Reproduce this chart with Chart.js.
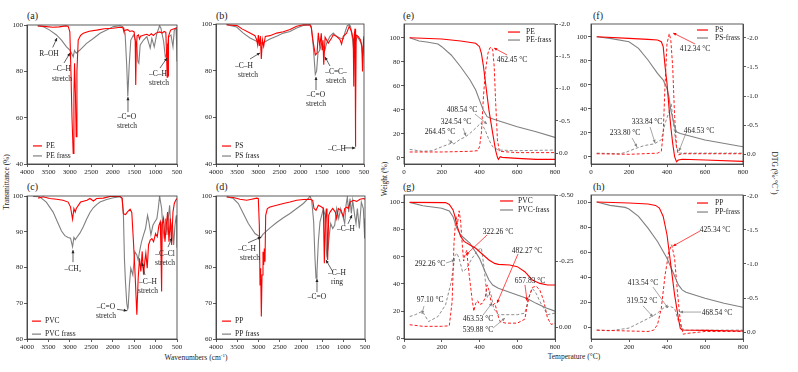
<!DOCTYPE html>
<html>
<head>
<meta charset="utf-8">
<script src="https://cdn.jsdelivr.net/npm/chart.js@4.4.0/dist/chart.umd.min.js"></script>
<style>
  body { margin: 0; width: 798px; height: 372px; overflow: hidden; position: relative; background: #fff;
         font-family: "Liberation Serif", "Times New Roman", serif; color: #222; }
  canvas { position: absolute; left: 0; top: 0; }
  .t { position: absolute; white-space: nowrap; font-size: 7.5px; line-height: 1; }
  .p { position: absolute; white-space: nowrap; font-size: 10px; line-height: 1; }
  sup { font-size: 5px; }
</style>
</head>
<body>
<div class="p" style="left:27px;top:11px">(a)</div>
<div class="p" style="left:216px;top:11px">(b)</div>
<div class="p" style="left:27px;top:182px">(c)</div>
<div class="p" style="left:216px;top:182px">(d)</div>
<div class="p" style="left:403px;top:11px">(e)</div>
<div class="p" style="left:593px;top:11px">(f)</div>
<div class="p" style="left:403px;top:182px">(g)</div>
<div class="p" style="left:593px;top:182px">(h)</div>
<div class="t" style="left:7px;top:182px;transform:translate(-50%,-50%) rotate(-90deg)">Transmittance (%)</div>
<div class="t" style="left:196px;top:357px;transform:translate(-50%,-50%)">Wavenumbers (cm<sup>-1</sup>)</div>
<div class="t" style="left:385px;top:179px;transform:translate(-50%,-50%) rotate(-90deg)">Weight (%)</div>
<div class="t" style="left:574px;top:357px;transform:translate(-50%,-50%)">Temperature (°C)</div>
<div class="t" style="left:775px;top:173px;transform:translate(-50%,-50%) rotate(90deg)">DTG (%·°C<sup>-1</sup>)</div>

<script>
const W = 798, H = 372;
const RED = '#ff0000', GRAY = '#808080', INK = '#222';
const FONT = '"Liberation Serif", "Times New Roman", serif';

// tick values
const wnTicks = [4000, 3500, 3000, 2500, 2000, 1500, 1000, 500];
const transTicksTop = [40, 60, 80, 100];
const transTicksBottom = [60, 70, 80, 90, 100];
const tempTicks = [0, 200, 400, 600, 800];
const weightTicks = [0, 20, 40, 60, 80, 100];
const dtgTicks = [-2.0, -1.5, -1.0, -0.5, 0.0];
const dtgTicksPVC = [-0.50, -0.25, 0.00];

// FTIR spectra [wavenumber, transmittance %]
const pe = [[3750,99.6],[3600,99.4],[3400,99.0],[3250,99.2],[3100,99.6],[3040,99.5],[3000,97],[2975,80],[2950,60],[2922,44.6],[2905,70],[2890,83.5],[2870,70],[2852,51.8],[2835,80],[2805,93.5],[2750,95.5],[2687,96.4],[2550,97.3],[2375,97.8],[2200,98.4],[2000,98.6],[1820,99.0],[1760,98.8],[1740,97.3],[1700,97.8],[1650,98.0],[1600,97.2],[1550,97.5],[1500,97.0],[1475,93],[1463,74.1],[1450,90],[1430,95.3],[1400,95.7],[1375,94.0],[1350,95.2],[1300,95.5],[1250,95.8],[1200,96.0],[1150,95.4],[1100,96.2],[1050,95.5],[1000,96.4],[950,96.8],[900,97.0],[850,96.5],[800,97.2],[760,96.8],[740,85],[730,77.5],[722,92],[716,85],[710,78],[700,95],[650,97.8],[600,98.2],[550,98.5],[500,98.8]];
const peFrass = [[3750,99.7],[3625,99.3],[3470,97.8],[3312,95.7],[3195,93.5],[3078,90.6],[3000,89.2],[2960,87.8],[2922,86.3],[2890,89.0],[2852,87.8],[2766,89.2],[2610,92.1],[2453,94.2],[2297,96.4],[2140,97.8],[1984,99.3],[1828,99.7],[1766,99.3],[1711,96.4],[1672,82.0],[1648,69.1],[1617,82.0],[1578,93.5],[1516,95.7],[1437,92.1],[1414,84.2],[1390,83.5],[1359,91.4],[1281,93.5],[1203,95.0],[1125,90.0],[1086,94.2],[1031,90.6],[969,96.4],[906,99.7],[875,98.6],[813,93.0],[773,86.3],[734,87.8],[695,94.8],[641,95.7],[594,90.6],[563,97.8],[523,98.6],[505,90],[500,84.2]];
const ps = [[3750,99.7],[3500,99.3],[3385,97.9],[3196,96.1],[3078,95.0],[3040,93.3],[3015,91.1],[3000,95.3],[2975,90.6],[2952,94.8],[2928,85.0],[2904,93.3],[2873,90.4],[2834,94.7],[2723,95.0],[2566,96.1],[2408,96.7],[2250,97.6],[2093,99.0],[1935,99.7],[1778,99.6],[1747,98.4],[1700,92],[1650,86.8],[1610,87.5],[1580,96.2],[1545,90.5],[1510,96.0],[1490,89.0],[1470,93],[1452,82.5],[1420,94.3],[1345,91.8],[1266,94.0],[1227,95.4],[1148,94.7],[1069,93.3],[1030,91.4],[990,94.7],[911,96.1],[850,99.0],[795,96.8],[754,93.3],[742,73.2],[730,95.5],[712,98.0],[705,80],[700,47.4],[692,60],[685,95.3],[639,94.7],[584,93.3],[551,90.4],[535,79.7],[515,92],[500,94.8]];
const psFrass = [[3750,99.7],[3512,98.7],[3355,96.1],[3196,94.0],[3040,92.6],[2920,91.8],[2842,92.4],[2723,93.6],[2566,94.8],[2408,96.1],[2250,96.8],[2093,98.3],[1935,99.4],[1778,99.7],[1747,99.0],[1699,90.4],[1652,78.4],[1621,79.8],[1589,87.5],[1542,88.9],[1502,91.8],[1463,90.4],[1423,89.0],[1384,91.8],[1305,94.7],[1227,96.1],[1148,94.7],[1069,94.0],[990,93.6],[943,96.8],[896,99.3],[850,99.7],[818,99.0],[770,93.3],[738,87.6],[706,91.8],[661,94.7],[614,93.3],[567,91.8],[528,86.1],[500,94.0]];
const pvc = [[3740,99.4],[3625,99.8],[3470,99.3],[3310,99.1],[3160,98.8],[3040,98.3],[2984,96.9],[2937,93.5],[2905,96.5],[2875,95.5],[2850,96.5],[2750,98.3],[2600,98.8],[2531,99.3],[2450,98.6],[2375,99.3],[2220,99.4],[2060,99.9],[1830,99.9],[1781,99.4],[1750,95.0],[1700,94.8],[1660,95.5],[1594,96.3],[1555,95.4],[1516,87.2],[1477,77.9],[1437,66.8],[1406,77.0],[1375,82.6],[1344,78.9],[1312,84.5],[1281,78.0],[1250,81.8],[1227,84.0],[1195,79.8],[1164,86.3],[1125,87.7],[1086,88.1],[1047,87.2],[1000,89.5],[961,88.6],[922,91.8],[890,92.8],[875,85],[859,73.3],[845,92.0],[813,93.7],[781,87.2],[750,91.8],[719,95.5],[687,87.2],[656,93.7],[625,86.3],[594,95.5],[563,97.9],[531,98.8],[500,99.3]];
const pvcFrass = [[3860,99.9],[3703,99.8],[3550,98.3],[3390,95.5],[3273,92.3],[3195,90.2],[3117,88.9],[3040,88.4],[2984,88.2],[2937,85.8],[2905,88.4],[2875,87.8],[2840,88.4],[2766,89.6],[2687,91.4],[2610,93.5],[2531,95.4],[2453,96.7],[2375,97.6],[2297,98.3],[2140,99.0],[1984,99.5],[1828,99.8],[1781,99.3],[1750,94.6],[1727,82.6],[1703,76.1],[1672,70.0],[1650,68.4],[1640,68.8],[1609,75.3],[1578,79.8],[1531,77.9],[1484,84.4],[1437,83.5],[1406,82.1],[1375,84.4],[1328,87.2],[1281,89.1],[1234,90.9],[1187,94.6],[1156,92.8],[1109,89.1],[1062,91.8],[1016,92.8],[969,93.7],[937,96.5],[906,100],[859,96.5],[828,90.9],[797,88.1],[766,93.7],[734,89.1],[703,93.7],[672,97.4],[640,90.0],[609,92.8],[578,86.3],[547,91.8],[516,94.6],[505,92],[500,85.5]];
const pp = [[3749,99.7],[3593,99.6],[3436,99.1],[3280,98.8],[3162,99.1],[3045,99.4],[3006,99.3],[2982,91.8],[2966,75.1],[2951,79.8],[2935,66.3],[2919,77.9],[2896,84.4],[2880,80.7],[2865,85.3],[2849,81.6],[2833,94.6],[2794,96.5],[2731,96.9],[2575,97.4],[2418,97.9],[2262,98.3],[2105,98.8],[1948,99.0],[1792,99.1],[1729,98.8],[1698,96.5],[1651,96.0],[1596,97.4],[1518,96.9],[1478,96.5],[1455,81.2],[1432,93.7],[1408,96.5],[1393,91.8],[1377,82.1],[1353,94.6],[1322,95.5],[1259,96.5],[1197,95.5],[1165,93.7],[1126,96.5],[1071,96.0],[1008,94.2],[977,96.5],[930,96.9],[891,96.5],[852,98.3],[774,98.8],[695,98.5],[617,99.1],[539,99.3],[500,99.1]];
const ppFrass = [[3749,99.8],[3593,99.3],[3475,97.9],[3358,95.1],[3240,92.3],[3162,90.9],[3084,89.5],[3006,88.9],[2951,88.3],[2904,89.2],[2849,89.8],[2731,91.1],[2575,92.6],[2418,93.9],[2262,95.1],[2105,96.5],[1948,97.9],[1831,99.3],[1792,100],[1753,98.8],[1706,92.8],[1675,82.6],[1651,77.0],[1628,78.8],[1596,87.2],[1557,92.8],[1518,94.6],[1478,96.5],[1440,94.6],[1400,83.5],[1369,85.3],[1338,89.1],[1306,92.3],[1259,90.9],[1212,91.8],[1165,96.5],[1118,93.7],[1071,96.5],[1024,94.6],[977,92.3],[946,97.4],[915,99.7],[883,95.5],[852,99.3],[821,95.1],[789,98.8],[743,94.6],[711,92.3],[680,96.5],[633,90.9],[586,98.3],[539,96.5],[508,88.1],[500,93.7]];

// TGA weight [temperature, weight %] and DTG [temperature, %/°C]
const peTg = [[30,100],[200,98.9],[300,97.2],[380,95.3],[400,92.5],[410,86.9],[420,77.2],[430,64.7],[450,39.7],[470,20.3],[485,6.4],[495,0.3],[500,-1.4],[510,0.8],[520,0.3],[600,-0.6],[700,-1.4],[800,-1.4]];
const peFrassTg = [[30,100],[80,97.2],[120,96.4],[180,94.7],[200,92.5],[250,85.6],[300,75.8],[350,64.7],[380,56.4],[400,48],[420,39.7],[440,34.2],[460,32.8],[500,30.8],[600,25.8],[700,21.7],[800,16.9]];
const peDtg = [[30,-0.02],[200,-0.02],[350,-0.03],[390,-0.04],[400,-0.10],[410,-0.31],[420,-0.83],[430,-1.24],[445,-1.55],[455,-1.63],[462,-1.64],[470,-1.60],[478,-1.34],[485,-0.83],[495,-0.21],[505,-0.03],[600,-0.01],[800,-0.01]];
const peFrassDtg = [[30,-0.06],[100,-0.03],[150,-0.04],[200,-0.10],[250,-0.155],[264,-0.145],[300,-0.22],[324,-0.25],[350,-0.31],[380,-0.39],[408,-0.47],[430,-0.36],[450,-0.21],[470,-0.10],[500,-0.05],[600,-0.04],[800,-0.05]];
const psTg = [[30,100],[200,98.6],[300,97.8],[350,97.2],[370,95.8],[380,91.7],[390,75],[400,61.1],[410,41.7],[420,25],[430,11.1],[440,0],[450,-4.2],[460,-2.8],[480,-2.2],[600,-2.8],[800,-3.9]];
const psFrassTg = [[30,100],[100,98.6],[200,95.8],[250,90.3],[300,80.6],[350,69.4],[380,63.9],[400,56.9],[410,50],[420,38.9],[440,25],[450,20.8],[470,19.4],[600,13.9],[800,8.3]];
const psDtg = [[30,-0.01],[200,0],[350,-0.02],[370,-0.05],[380,-0.36],[390,-1.21],[400,-1.90],[412,-2.07],[420,-1.96],[430,-1.50],[440,-0.65],[450,-0.13],[460,0.01],[480,-0.01],[800,-0.01]];
const psFrassDtg = [[30,-0.02],[150,-0.01],[180,-0.03],[234,-0.10],[280,-0.15],[334,-0.18],[370,-0.25],[390,-0.53],[410,-0.72],[422,-0.87],[435,-0.50],[450,-0.12],[465,-0.02],[800,-0.02]];
const pvcTg = [[30,100],[220,99.8],[240,98.5],[260,94.4],[270,89.5],[280,83.3],[300,74.8],[320,71.1],[350,68.6],[380,66.2],[420,61.3],[450,57.6],[480,55.1],[500,54.4],[560,53.9],[600,52.7],[640,49],[680,42.9],[720,40.4],[760,39.2],[800,39.2]];
const pvcFrassTg = [[30,100],[100,97.5],[200,95.6],[240,93.6],[260,89.5],[280,80.9],[300,76],[350,69.9],[400,58.8],[430,49],[450,42.9],[470,39.2],[500,36.8],[600,31.9],[650,29.4],[700,25.7],[750,22.5],[800,20]];
const pvcDtg = [[30,-0.009],[100,-0.003],[200,-0.003],[240,-0.005],[255,-0.097],[265,-0.32],[275,-0.42],[283,-0.39],[292,-0.44],[300,-0.40],[310,-0.30],[316,-0.25],[322,-0.27],[332,-0.29],[345,-0.20],[360,-0.11],[370,-0.06],[380,-0.09],[390,-0.10],[400,-0.085],[415,-0.09],[430,-0.11],[440,-0.16],[450,-0.14],[465,-0.08],[482,-0.09],[495,-0.05],[510,-0.02],[540,-0.015],[600,-0.015],[640,-0.03],[655,-0.09],[665,-0.12],[680,-0.15],[700,-0.155],[720,-0.14],[740,-0.10],[760,-0.035],[780,-0.01],[800,-0.015]];
const pvcFrassDtg = [[30,-0.04],[60,-0.047],[97,-0.06],[130,-0.021],[180,-0.04],[220,-0.084],[250,-0.17],[270,-0.27],[280,-0.28],[292,-0.26],[310,-0.21],[330,-0.22],[360,-0.26],[390,-0.29],[410,-0.30],[425,-0.22],[440,-0.11],[455,-0.135],[463,-0.12],[475,-0.07],[500,-0.047],[540,-0.047],[600,-0.047],[640,-0.053],[660,-0.11],[680,-0.147],[700,-0.128],[720,-0.097],[760,-0.047],[800,-0.053]];
const ppTg = [[30,100],[200,99.2],[300,98.4],[340,97.3],[360,95.2],[380,88.5],[400,73.9],[420,49.9],[440,25.9],[460,7.2],[470,-0.8],[480,-2.1],[600,-2.4],[800,-2.9]];
const ppFrassTg = [[30,100],[100,97.3],[180,95.7],[200,94.4],[250,88.5],[300,79.2],[350,68.5],[400,55.2],[430,44.5],[460,33.9],[480,29.9],[500,28],[600,23.2],[700,19.2],[800,16]];
const ppDtg = [[30,-0.03],[300,-0.01],[330,-0.03],[350,-0.11],[370,-0.35],[390,-0.84],[410,-1.18],[425,-1.28],[440,-1.08],[455,-0.59],[470,-0.16],[485,0.03],[500,0.02],[600,-0.01],[800,-0.01]];
const ppFrassDtg = [[30,-0.03],[100,-0.02],[200,-0.06],[250,-0.13],[300,-0.2],[320,-0.23],[350,-0.28],[380,-0.35],[414,-0.38],[440,-0.35],[460,-0.16],[480,-0.05],[500,-0.03],[800,-0.03]];

// box drawn round each plot area
const framePlugin = {
  id: 'frame',
  afterDraw(chart) {
    const a = chart.chartArea, ctx = chart.ctx;
    ctx.save();
    ctx.strokeStyle = '#333';
    ctx.lineWidth = 0.8;
    ctx.strokeRect(a.left, a.top, a.right - a.left, a.bottom - a.top);
    ctx.restore();
  }
};

function drawArrow(ctx, p, q, color, head) {
  ctx.strokeStyle = color;
  ctx.fillStyle = color;
  ctx.lineWidth = 0.7;
  ctx.beginPath(); ctx.moveTo(p[0], p[1]); ctx.lineTo(q[0], q[1]); ctx.stroke();
  if (!head) return;
  const ang = Math.atan2(q[1] - p[1], q[0] - p[0]), L = 3.5, s = 0.45;
  ctx.beginPath();
  ctx.moveTo(q[0], q[1]);
  ctx.lineTo(q[0] - L * Math.cos(ang - s), q[1] - L * Math.sin(ang - s));
  ctx.lineTo(q[0] - L * Math.cos(ang + s), q[1] - L * Math.sin(ang + s));
  ctx.closePath(); ctx.fill();
}

// labels, arrows and the in-plot legend
const notesPlugin = {
  id: 'notes',
  afterDatasetsDraw(chart, args, o) {
    const ctx = chart.ctx, sx = chart.scales.x, sy = chart.scales.y;
    const px = p => [sx.getPixelForValue(p[0]), sy.getPixelForValue(p[1])];
    ctx.save();
    ctx.font = '7.5px ' + FONT;
    ctx.textBaseline = 'middle';
    (o.items || []).forEach(n => {
      if (n.from) drawArrow(ctx, px(n.from), px(n.to), n.color || INK, n.head !== false);
      if (n.text) {
        const [x, y] = px(n.at);
        ctx.fillStyle = INK; ctx.textAlign = 'center';
        ctx.fillText(n.text, x, y);
      }
    });
    const k = o.keys;
    if (k) {
      const [x0, y0] = px(k.at);
      chart.data.datasets.slice(0, 2).forEach((d, i) => {
        const y = y0 + i * k.gap;
        ctx.strokeStyle = d.borderColor; ctx.lineWidth = 1.2; ctx.setLineDash([]);
        ctx.beginPath(); ctx.moveTo(x0, y); ctx.lineTo(x0 + k.len, y); ctx.stroke();
        ctx.fillStyle = INK; ctx.textAlign = 'left';
        ctx.fillText(d.label, x0 + k.len + k.sep, y);
      });
    }
    ctx.restore();
  }
};

function axis(pos, a, size) {
  return {
    type: 'linear', position: pos, min: a.min, max: a.max, reverse: !!a.reverse,
    afterBuildTicks: s => { s.ticks = a.ticks.map(v => ({ value: v })); },
    afterFit: s => { if (pos === 'bottom') s.height = size; else s.width = size; },
    grid: { drawOnChartArea: false, drawTicks: true, tickLength: 3, color: '#333', lineWidth: 0.8 },
    border: { display: true, color: '#333', width: 0.8 },
    ticks: {
      font: { family: FONT, size: 7 }, color: INK, padding: 1, maxRotation: 0, autoSkip: false,
      callback: v => a.fmt ? a.fmt(v) : String(v)
    }
  };
}

function line(label, arr, color, axisId, dashed) {
  return {
    label, data: arr.map(p => ({ x: p[0], y: p[1] })),
    borderColor: color, borderWidth: dashed ? 0.9 : (axisId ? 1 : 1.1),
    borderDash: dashed ? [3, 2] : [], pointRadius: 0, tension: 0, fill: false,
    yAxisID: axisId || 'y'
  };
}

function panel(box, x, y, right, sets, items, keys) {
  const cv = document.createElement('canvas');
  cv.width = W; cv.height = H;
  document.body.appendChild(cv);
  const yW = 22, xH = 14, rW = right ? 22 : 0;
  const scales = { x: axis('bottom', x, xH), y: axis('left', y, yW) };
  if (right) scales.y2 = axis('right', right, rW);
  new Chart(cv, {
    type: 'line',
    data: { datasets: sets },
    options: {
      responsive: false, animation: false, events: [],
      layout: { autoPadding: false,
        padding: { left: box[0] - yW, top: box[1], right: W - box[2] - rW, bottom: H - box[3] - xH } },
      plugins: { legend: { display: false }, tooltip: { enabled: false }, notes: { items, keys } },
      scales
    },
    plugins: [framePlugin, notesPlugin]
  });
}

const wnAxis = { min: 500, max: 4000, reverse: true, ticks: wnTicks };
const tempAxis = { min: 0, max: 800, ticks: tempTicks };
const dtgFmt = v => v.toFixed(1);

// (a) PE
panel([27, 25, 177, 164], wnAxis, { min: 40, max: 100, ticks: transTicksTop }, null,
  [line('PE', pe, RED), line('PE frass', peFrass, GRAY)],
  [
    { text: 'R–OH', at: [3487, 87.5], from: [3400, 90.3], to: [3300, 94.4] },
    { text: '–C–H', at: [3183, 81.0] }, { text: 'stretch', at: [3183, 76.7], from: [3137, 83.6], to: [2997, 87.9] },
    { text: '–C=O', at: [1667, 60.3] }, { text: 'stretch', at: [1667, 56.4], from: [1644, 62.4], to: [1644, 68.9] },
    { text: '–C–H', at: [944, 78.8] }, { text: 'stretch', at: [920, 74.9], from: [897, 81.4], to: [733, 85.8] }
  ],
  { at: [3860, 47.8], len: 9, sep: 4, gap: 10 });

// (b) PS
panel([216, 24, 364, 164], wnAxis, { min: 40, max: 100, ticks: transTicksTop }, null,
  [line('PS', ps, RED), line('PS frass', psFrass, GRAY)],
  [
    { text: '–C–H', at: [3338, 82.0] }, { text: 'stretch', at: [3243, 78.1], from: [3196, 85.0], to: [2959, 87.6] },
    { text: '–C=O', at: [1635, 69.6] }, { text: 'stretch', at: [1635, 65.7], from: [1635, 71.7], to: [1635, 77.3] },
    { text: '–C=C–', at: [1162, 79.4] }, { text: 'stretch', at: [1162, 75.6], from: [1304, 82.0], to: [1422, 85.9] },
    { text: '–C–H', at: [1138, 46.6], from: [973, 46.9], to: [705, 46.9] }
  ],
  { at: [3858, 47.7], len: 9, sep: 4, gap: 10 });

// (c) PVC
panel([27, 196, 177, 339], wnAxis, { min: 60, max: 100, ticks: transTicksBottom }, null,
  [line('PVC', pvc, RED), line('PVC frass', pvcFrass, GRAY)],
  [
    { text: '–CH₂', at: [2927, 79.6], from: [2927, 81.5], to: [2927, 84.9] },
    { text: '–C=O', at: [2157, 69.0] }, { text: 'stretch', at: [2157, 66.4], from: [1900, 68.3], to: [1667, 67.9] },
    { text: '–C–H', at: [1177, 75.9] }, { text: 'stretch', at: [1177, 73.5], from: [1247, 77.9], to: [1317, 81.3] },
    { text: '–C–Cl', at: [780, 83.8] }, { text: 'stretch', at: [780, 81.3], from: [710, 85.7], to: [617, 88.3] }
  ],
  { at: [3883, 65.0], len: 9, sep: 4, gap: 13 });

// (d) PP
panel([216, 196, 365, 339], wnAxis, { min: 60, max: 100, ticks: transTicksBottom }, null,
  [line('PP', pp, RED), line('PP frass', ppFrass, GRAY)],
  [
    { text: '–C–H', at: [3272, 85.2] }, { text: 'stretch', at: [3201, 82.7], from: [3248, 86.9], to: [2943, 88.5] },
    { text: '–C–H', at: [1158, 78.5] }, { text: 'ring', at: [1158, 75.9], from: [1252, 78.7], to: [1416, 82.1] },
    { text: '–C=O', at: [1628, 71.8], from: [1628, 73.1], to: [1628, 76.8] },
    { text: '–C–H', at: [946, 90.8], from: [899, 92.2], to: [805, 94.7] }
  ],
  { at: [3859, 65.0], len: 9, sep: 4, gap: 13 });

// (e) PE TGA
panel([404, 24, 555, 164], tempAxis, { min: -5.25, max: 111.4, ticks: weightTicks },
  { min: -2.0, max: 0.166, reverse: true, ticks: dtgTicks, fmt: dtgFmt },
  [line('PE', peTg, RED), line('PE-frass', peFrassTg, GRAY),
   line('PE DTG', peDtg, RED, 'y2', true), line('PE-frass DTG', peFrassDtg, GRAY, 'y2', true)],
  [
    { text: '462.45 °C', at: [572, 81.4], from: [546, 85.6], to: [477, 91.4], color: RED },
    { text: '408.54 °C', at: [307, 39.7], from: [376, 36.4], to: [440, 28.1], color: GRAY },
    { text: '324.54 °C', at: [276, 29.7], from: [313, 24.7], to: [328, 18.1], color: GRAY },
    { text: '264.45 °C', at: [191, 21.4], from: [234, 14.9], to: [258, 12.2], color: GRAY }
  ],
  { at: [551, 104.7], len: 12, sep: 6, gap: 8 });

// (f) PS TGA
panel([591, 24, 743, 164], tempAxis, { min: -6.1, max: 110.6, ticks: weightTicks },
  { min: -2.235, max: 0.166, reverse: true, ticks: dtgTicks, fmt: dtgFmt },
  [line('PS', psTg, RED), line('PS-frass', psFrassTg, GRAY),
   line('PS DTG', psDtg, RED, 'y2', true), line('PS-frass DTG', psFrassDtg, GRAY, 'y2', true)],
  [
    { text: '412.34 °C', at: [547, 89.8], from: [547, 94.0], to: [432, 103.1], color: RED },
    { text: '333.84 °C', at: [295, 28.9], from: [311, 24.7], to: [337, 11.4], color: GRAY },
    { text: '233.80 °C', at: [179, 19.7], from: [216, 15.6], to: [242, 8.1], color: GRAY },
    { text: '464.53 °C', at: [568, 21.4], from: [500, 19.7], to: [463, 4.7], color: GRAY }
  ],
  { at: [558, 105.6], len: 11, sep: 7, gap: 8 });

// (g) PVC TGA
panel([404, 195, 555, 339], tempAxis, { min: -0.5, max: 105.4, ticks: weightTicks },
  { min: -0.5, max: 0.045, reverse: true, ticks: dtgTicksPVC, fmt: v => v.toFixed(2) },
  [line('PVC', pvcTg, RED), line('PVC-frass', pvcFrassTg, GRAY),
   line('PVC DTG', pvcDtg, RED, 'y2', true), line('PVC-frass DTG', pvcFrassDtg, GRAY, 'y2', true)],
  [
    { text: '322.26 °C', at: [498, 78.2], from: [440, 76.0], to: [328, 61.3], color: RED },
    { text: '482.27 °C', at: [652, 64.2], from: [604, 62.0], to: [493, 26.0], color: RED },
    { text: '292.26 °C', at: [138, 54.7], from: [223, 55.4], to: [270, 57.6], color: GRAY },
    { text: '657.83 °C', at: [668, 42.2], from: [641, 39.2], to: [652, 27.5], color: RED },
    { text: '97.10 °C', at: [138, 28.2], from: [106, 23.8], to: [95, 17.9], color: GRAY },
    { text: '463.53 °C', at: [392, 14.2], from: [419, 17.1], to: [466, 25.9], color: GRAY },
    { text: '539.88 °C', at: [392, 6.1], from: [472, 7.6], to: [535, 14.9], color: GRAY }
  ],
  { at: [509, 101.0], len: 13, sep: 5, gap: 9 });

// (h) PP TGA
panel([591, 195, 743, 339], tempAxis, { min: -9.3, max: 105.6, ticks: weightTicks },
  { min: -2.01, max: 0.1, reverse: true, ticks: dtgTicks, fmt: dtgFmt },
  [line('PP', ppTg, RED), line('PP-frass', ppFrassTg, GRAY),
   line('PP DTG', ppDtg, RED, 'y2', true), line('PP-frass DTG', ppFrassDtg, GRAY, 'y2', true)],
  [
    { text: '425.34 °C', at: [653, 77.7], from: [574, 76.9], to: [432, 64.9], color: RED },
    { text: '413.54 °C', at: [274, 35.4], from: [326, 32.2], to: [405, 15.4], color: GRAY },
    { text: '319.52 °C', at: [268, 21.1], from: [274, 17.1], to: [326, 8.4], color: GRAY },
    { text: '468.54 °C', at: [663, 11.4], from: [579, 12.2], to: [468, 12.2], color: GRAY }
  ],
  { at: [558, 99.2], len: 11, sep: 7, gap: 9 });
</script>
</body>
</html>
